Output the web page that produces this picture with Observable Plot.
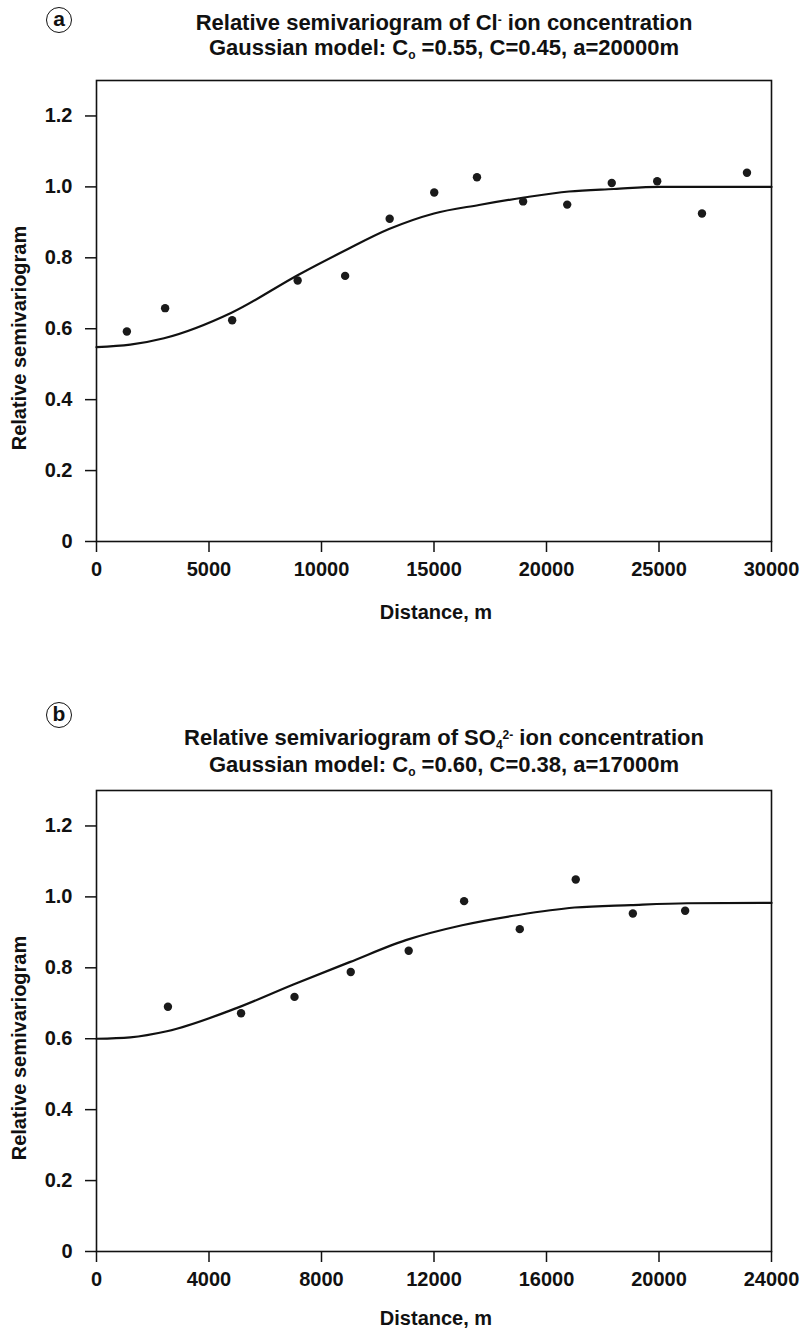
<!DOCTYPE html>
<html>
<head>
<meta charset="utf-8">
<script src="https://cdn.jsdelivr.net/npm/d3@7"></script>
<script src="https://cdn.jsdelivr.net/npm/@observablehq/plot@0.6"></script>
<style>
  body { margin: 0; background: #fff; width: 802px; height: 1328px; overflow: hidden; font-family: "Liberation Sans", Arial, sans-serif; color: #111; }
  .panel { position: absolute; left: 0; width: 802px; height: 700px; }
  .title { position: absolute; left: 444px; transform: translateX(-50%); white-space: nowrap; font-weight: bold; font-size: 22px; text-align: center; line-height: 24px; height: 24px; }
  .title sub, .title sup { font-size: 12px; line-height: 0; }
  .title sup { vertical-align: 6px; }
  .title sub { vertical-align: -4px; }
  .badge { position: absolute; width: 24px; height: 24px; border: 1.7px solid #111; border-radius: 50%; font-weight: bold; font-size: 21px; line-height: 22px; text-align: center; }
  .ylab { position: absolute; font-weight: bold; font-size: 20px; white-space: nowrap; transform: translate(-50%, -50%) rotate(-90deg); }
  .xlab { position: absolute; font-weight: bold; font-size: 20px; white-space: nowrap; transform: translate(-50%, -50%); }
  .plotwrap { position: absolute; left: 0; top: 0; }
</style>
</head>
<body>
<div class="panel" id="pa" style="top:0px">
  <div class="badge" style="left:46px; top:7px;">a</div>
  <div class="title" style="top:11px;">Relative semivariogram of Cl<sup>-</sup> ion concentration</div>
  <div class="title" style="top:36px;">Gaussian model: C<sub>o</sub> =0.55, C=0.45, a=20000m</div>
  <div class="plotwrap" id="plotA"></div>
  <div class="ylab" style="left:19px; top:338px;">Relative semivariogram</div>
  <div class="xlab" style="left:436px; top:612px;">Distance, m</div>
</div>
<div class="panel" id="pb" style="top:710px">
  <div class="badge" style="left:46px; top:-8px;">b</div>
  <div class="title" style="top:16px;">Relative semivariogram of SO<sub>4</sub><sup>2-</sup> ion concentration</div>
  <div class="title" style="top:43px;">Gaussian model: C<sub>o</sub> =0.60, C=0.38, a=17000m</div>
  <div class="plotwrap" id="plotB"></div>
  <div class="ylab" style="left:19px; top:338px;">Relative semivariogram</div>
  <div class="xlab" style="left:436px; top:608px;">Distance, m</div>
</div>
<script>
// Panel (a): Cl- ion
const clDistance = [1350, 3050, 6030, 8940, 11050, 13030, 15010, 16910, 18960, 20920, 22900, 24920, 26910, 28910];
const clGamma    = [0.592, 0.658, 0.624, 0.736, 0.749, 0.910, 0.984, 1.027, 0.959, 0.950, 1.011, 1.016, 0.925, 1.040];
const clModelDistance = [0, 1500, 3000, 6000, 9000, 11000, 13000, 15000, 17000, 19000, 21000, 23000, 25000, 30000];
const clModelGamma    = [0.548, 0.555, 0.573, 0.645, 0.753, 0.819, 0.881, 0.925, 0.949, 0.970, 0.987, 0.994, 1.0, 1.0];
const clXTicks = [0, 5000, 10000, 15000, 20000, 25000, 30000];

// Panel (b): SO4 2- ion
const soDistance = [2540, 5140, 7040, 9040, 11100, 13070, 15050, 17040, 19070, 20930];
const soGamma    = [0.690, 0.672, 0.718, 0.788, 0.848, 0.988, 0.909, 1.049, 0.953, 0.961];
const soModelDistance = [0, 1200, 2500, 5000, 7000, 9000, 11000, 13000, 15000, 17000, 19000, 21000, 24000];
const soModelGamma    = [0.600, 0.604, 0.621, 0.687, 0.753, 0.816, 0.878, 0.920, 0.949, 0.970, 0.977, 0.982, 0.983];
const soXTicks = [0, 4000, 8000, 12000, 16000, 20000, 24000];

const yTicks = [0, 0.2, 0.4, 0.6, 0.8, 1.0, 1.2];

function panel(dist, gam, mDist, mGam, xMax, xTicks) {
  const pts = dist.map((d, i) => ({x: d, y: gam[i]}));
  const model = mDist.map((d, i) => ({x: d, y: mGam[i]}));
  return Plot.plot({
    width: 802,
    height: 600,
    marginTop: 80,
    marginBottom: 59,
    marginLeft: 96,
    marginRight: 31,
    style: {fontFamily: '"Liberation Sans", Arial, sans-serif', fontSize: "20px", fontWeight: "bold", color: "#111", background: "transparent", overflow: "visible"},
    x: {domain: [0, xMax]},
    y: {domain: [0, 1.3]},
    marks: [
      Plot.frame({stroke: "#111", strokeWidth: 1.6}),
      Plot.axisY({ticks: yTicks, tickSize: 11, tickPadding: 13, tickFormat: d => d === 0 ? "0" : d.toFixed(1), label: null, strokeWidth: 1.5}),
      Plot.axisX({ticks: xTicks, tickSize: 11, tickPadding: 9, tickFormat: d => String(d), label: null, strokeWidth: 1.5}),
      Plot.line(model, {x: "x", y: "y", curve: "monotone-x", stroke: "#111", strokeWidth: 2.2}),
      Plot.dot(pts, {x: "x", y: "y", r: 4.2, fill: "#1a1a1a", stroke: "none"})
    ]
  });
}

document.getElementById("plotA").appendChild(panel(clDistance, clGamma, clModelDistance, clModelGamma, 30000, clXTicks));
document.getElementById("plotB").appendChild(panel(soDistance, soGamma, soModelDistance, soModelGamma, 24000, soXTicks));
</script>
</body>
</html>
